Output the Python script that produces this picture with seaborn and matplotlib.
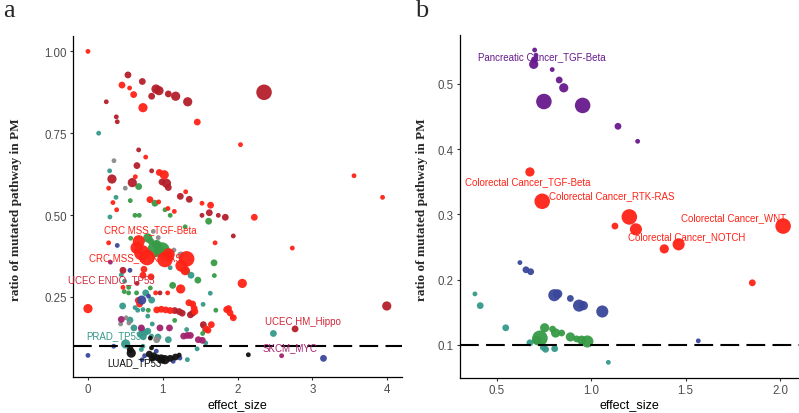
import matplotlib
matplotlib.use("Agg")
import matplotlib.pyplot as plt
import numpy as np
import pandas as pd
import seaborn as sns

# ---------------- panel a data: (effect_size, ratio, size level) per group ----------------
a_red = [(0.00, 1.000, 1), (0.455, 0.897, 2), (0.557, 0.888, 1), (0.611, 0.868, 2), (0.736, 0.828, 3),
         (1.462, 0.784, 2), (2.04, 0.715, 1), (0.772, 0.677, 1), (0.954, 0.630, 2), (1.02, 0.623, 3),
         (0.633, 0.617, 1), (0.277, 0.582, 1), (1.307, 0.571, 1), (3.558, 0.620, 1), (3.94, 0.554, 1),
         (0.334, 0.538, 1), (0.829, 0.547, 2), (0.946, 0.540, 1), (1.525, 0.536, 1), (1.64, 0.530, 2),
         (0.384, 0.516, 1), (1.07, 0.520, 1), (1.155, 0.511, 1), (2.225, 0.493, 2), (1.70, 0.415, 1),
         (0.277, 0.415, 1), (2.733, 0.399, 1), (0.68, 0.420, 4), (0.65, 0.400, 4), (0.72, 0.385, 5),
         (0.79, 0.370, 5), (1.03, 0.364, 5), (1.08, 0.380, 4), (1.32, 0.366, 5), (1.25, 0.345, 4),
         (1.30, 0.330, 3), (0.749, 0.334, 2), (0.736, 0.316, 2), (0.843, 0.311, 2), (2.064, 0.291, 3),
         (1.24, 0.274, 3), (0.468, 0.279, 1), (0.905, 0.262, 1), (1.066, 0.262, 1), (0.673, 0.239, 2),
         (0.69, 0.228, 2), (0.00, 0.214, 3), (1.35, 0.232, 2), (1.40, 0.228, 2), (1.42, 0.215, 2),
         (1.43, 0.205, 2), (1.10, 0.208, 2), (0.92, 0.210, 2), (0.98, 0.212, 2), (1.04, 0.210, 2),
         (1.855, 0.211, 2), (1.90, 0.201, 2), (1.944, 0.186, 2), (1.88, 0.214, 2), (1.93, 0.190, 1),
         (1.65, 0.165, 2), (1.578, 0.152, 2), (1.605, 0.148, 2)]
a_darkred = [(0.535, 0.928, 2), (0.727, 0.908, 2), (0.91, 0.885, 3), (0.95, 0.880, 3), (1.075, 0.870, 2),
             (1.173, 0.863, 3), (0.852, 0.863, 2), (1.334, 0.846, 3), (0.245, 0.846, 1), (2.355, 0.875, 5),
             (0.379, 0.800, 1), (0.392, 0.785, 1), (0.678, 0.699, 1), (0.655, 0.651, 2), (0.852, 0.635, 1),
             (0.99, 0.601, 2), (1.05, 0.597, 3), (1.075, 0.584, 2), (0.321, 0.610, 3), (0.593, 0.599, 3),
             (1.235, 0.557, 2), (1.355, 0.548, 2), (1.623, 0.507, 2), (1.743, 0.499, 1), (1.837, 0.493, 2),
             (1.525, 0.499, 1), (1.944, 0.436, 1), (0.468, 0.331, 2), (0.656, 0.291, 1), (0.963, 0.262, 1),
             (1.40, 0.200, 2), (1.37, 0.195, 2), (1.16, 0.208, 2), (1.22, 0.205, 2), (1.26, 0.200, 2),
             (1.543, 0.165, 2), (2.77, 0.152, 2), (3.996, 0.222, 3)]
a_green = [(0.678, 0.587, 2), (0.566, 0.544, 1), (0.896, 0.536, 2), (1.03, 0.516, 1), (1.614, 0.481, 2),
           (0.629, 0.499, 1), (0.686, 0.499, 1), (1.10, 0.499, 1), (1.30, 0.464, 1), (0.80, 0.430, 3),
           (0.571, 0.429, 1), (0.90, 0.395, 5), (0.99, 0.393, 5), (0.92, 0.410, 3), (1.05, 0.385, 3),
           (0.84, 0.420, 2), (1.686, 0.354, 2), (1.32, 0.329, 2), (1.47, 0.301, 2), (1.69, 0.315, 1),
           (1.133, 0.285, 2), (0.544, 0.279, 1), (0.485, 0.266, 1), (0.544, 0.262, 1), (0.65, 0.262, 1),
           (0.834, 0.277, 1), (0.807, 0.209, 1), (1.71, 0.209, 1), (1.16, 0.178, 1), (1.534, 0.138, 1)]
a_teal = [(0.143, 0.750, 1), (0.29, 0.635, 1), (0.375, 0.554, 1), (0.294, 0.494, 1), (0.446, 0.317, 1),
          (0.49, 0.298, 1), (1.378, 0.316, 2), (0.772, 0.262, 2), (1.636, 0.261, 1), (0.852, 0.240, 2),
          (1.10, 0.339, 1), (0.464, 0.222, 2), (0.63, 0.217, 1), (0.665, 0.209, 1), (0.736, 0.211, 1),
          (0.80, 0.191, 1), (1.54, 0.227, 1), (0.562, 0.179, 2), (0.86, 0.167, 1), (0.615, 0.155, 2),
          (0.72, 0.150, 2), (0.76, 0.140, 2), (0.80, 0.145, 2), (0.74, 0.128, 2), (0.85, 0.130, 1),
          (0.70, 0.135, 2), (0.936, 0.127, 2), (1.075, 0.119, 2), (1.32, 0.150, 1), (1.54, 0.160, 1),
          (1.56, 0.148, 1), (1.575, 0.109, 1), (1.46, 0.091, 1), (0.504, 0.106, 3), (0.736, 0.099, 1),
          (0.714, 0.089, 1), (1.14, 0.061, 1), (1.33, 0.058, 1), (2.48, 0.138, 2)]
a_gray = [(0.348, 0.666, 1), (0.499, 0.582, 1), (0.874, 0.450, 1), (0.94, 0.431, 1), (1.15, 0.393, 1),
          (1.24, 0.378, 2), (0.51, 0.186, 1), (0.548, 0.170, 1), (0.437, 0.167, 1), (0.919, 0.119, 2)]
a_navy = [(0.392, 0.407, 1), (0.562, 0.331, 1), (0.81, 0.252, 1), (0.718, 0.240, 3), (0.344, 0.099, 1),
          (0.00, 0.071, 1), (0.758, 0.070, 1), (0.726, 0.058, 1), (0.914, 0.084, 1), (1.14, 0.053, 1),
          (1.23, 0.063, 1), (3.15, 0.062, 2)]
a_magenta = [(0.30, 0.356, 1), (0.446, 0.181, 2), (0.714, 0.155, 2), (0.963, 0.155, 2), (1.09, 0.155, 2),
             (1.28, 0.130, 2), (1.33, 0.132, 2), (1.37, 0.132, 2), (1.476, 0.119, 2), (1.53, 0.117, 2),
             (2.59, 0.070, 1)]
a_black = [(0.834, 0.124, 1), (0.85, 0.094, 1), (0.566, 0.089, 2), (0.579, 0.078, 3), (0.82, 0.075, 2),
           (0.88, 0.070, 2), (0.93, 0.064, 2), (0.98, 0.060, 3), (1.03, 0.058, 3), (0.86, 0.062, 2),
           (1.10, 0.062, 2), (1.17, 0.066, 2), (1.22, 0.072, 1), (2.145, 0.073, 1)]

a_labels = ["CRC MSS_TGF-Beta", "CRC MSS_RTK-RAS", "UCEC ENDO_TP53", "UCEC HM_Hippo",
            "PRAD_TP53", "SKCM_MYC", "LUAD_TP53"]
a_label_x = [0.84, 0.64, 0.31, 2.88, 0.34, 2.70, 0.625]
a_label_y = [0.458, 0.370, 0.305, 0.176, 0.132, 0.096, 0.050]
a_label_col = ["red", "red", "ucec", "ucec", "teal", "magenta", "black"]

# ---------------- panel b data ----------------
b_purple = [(0.701, 0.552, 1), (0.708, 0.544, 1), (0.700, 0.537, 2), (0.696, 0.530, 3), (0.794, 0.522, 1),
            (0.831, 0.506, 2), (0.855, 0.494, 3), (0.75, 0.473, 5), (0.955, 0.467, 5), (1.142, 0.435, 2),
            (1.246, 0.412, 1)]
b_red = [(0.676, 0.365, 3), (0.741, 0.320, 5), (1.202, 0.296, 5), (1.126, 0.282, 2), (1.237, 0.277, 4),
         (1.387, 0.247, 3), (1.463, 0.254, 4), (2.016, 0.282, 5), (1.853, 0.195, 2)]
b_navy = [(0.623, 0.226, 1), (0.655, 0.215, 2), (0.68, 0.212, 2), (0.805, 0.176, 4), (0.823, 0.178, 3),
          (0.89, 0.171, 2), (0.936, 0.160, 4), (0.959, 0.160, 3), (1.059, 0.151, 4), (1.567, 0.106, 1)]
b_teal = [(0.385, 0.178, 1), (0.413, 0.160, 2), (0.548, 0.126, 2), (0.676, 0.103, 2), (0.747, 0.096, 2),
          (0.759, 0.093, 2), (0.807, 0.094, 2), (1.091, 0.073, 1)]
b_green = [(0.754, 0.126, 3), (0.729, 0.110, 5), (0.712, 0.107, 3), (0.796, 0.124, 2), (0.812, 0.118, 3),
           (0.844, 0.118, 2), (0.89, 0.112, 3), (0.923, 0.109, 2), (0.95, 0.107, 3), (0.98, 0.105, 4)]

b_labels = ["Pancreatic Cancer_TGF-Beta", "Colorectal Cancer_TGF-Beta", "Colorectal Cancer_RTK-RAS",
            "Colorectal Cancer_WNT", "Colorectal Cancer_NOTCH"]
b_label_x = [0.74, 0.665, 1.107, 1.752, 1.507]
b_label_y = [0.543, 0.351, 0.329, 0.295, 0.267]
b_label_col = ["purple", "red", "red", "red", "red"]

a_xticks = [0, 1, 2, 3, 4]
a_yticks = [0.25, 0.50, 0.75, 1.00]
a_ytick_labels = ["0.25", "0.50", "0.75", "1.00"]
b_xticks = [0.5, 1.0, 1.5, 2.0]
b_xtick_labels = ["0.5", "1.0", "1.5", "2.0"]
b_yticks = [0.1, 0.2, 0.3, 0.4, 0.5]
b_ytick_labels = ["0.1", "0.2", "0.3", "0.4", "0.5"]
threshold = 0.1

palette = {"red": "#FF2216", "darkred": "#B41E2A", "green": "#379A46", "teal": "#35998A",
           "gray": "#8A8A8A", "navy": "#3A479A", "magenta": "#A2226E", "black": "#111111",
           "purple": "#671A8C", "ucec": "#D1283A"}
size_map = {1: 12, 2: 24, 3: 44, 4: 76, 5: 125}


def frame(groups):
    rows = []
    for name, pts in groups.items():
        for x, y, s in pts:
            rows.append({"effect_size": x, "ratio": y, "group": name, "size": s})
    return pd.DataFrame(rows)


df_a = frame({"teal": a_teal, "gray": a_gray, "green": a_green, "darkred": a_darkred,
              "red": a_red, "navy": a_navy, "magenta": a_magenta, "black": a_black})
df_b = frame({"purple": b_purple, "red": b_red, "navy": b_navy, "teal": b_teal, "green": b_green})

sns.set_style("ticks")
plt.rcParams["font.family"] = ["Liberation Sans", "DejaVu Sans"]

fig = plt.figure(figsize=(7.99, 4.14), dpi=100)
W, H = 799, 414
ax_a = fig.add_axes([73 / W, 1 - 378 / H, (402 - 73) / W, (378 - 37) / H])
ax_b = fig.add_axes([460 / W, 1 - 379 / H, (799 - 460) / W, (379 - 36) / H])

for ax, df in ((ax_a, df_a), (ax_b, df_b)):
    sns.scatterplot(data=df, x="effect_size", y="ratio", hue="group", palette=palette,
                    size="size", sizes=size_map, legend=False, linewidth=0, alpha=0.95, ax=ax)
    ax.axhline(threshold, color="black", lw=1.5, ls=(0, (9, 3.5)), zorder=5)
    for side in ("top", "right"):
        ax.spines[side].set_visible(False)
    for side in ("left", "bottom"):
        ax.spines[side].set_linewidth(0.9)
        ax.spines[side].set_color("black")
    ax.tick_params(axis="both", length=2.5, width=0.8, color="#333333",
                   labelcolor="#4D4D4D", labelsize=8.3, pad=2)
    ax.set_xlabel("")
    ax.set_ylabel("")

ax_a.set_xlim(-0.2, 4.2)
ax_a.set_ylim(0.005, 1.047)
ax_a.set_xticks(a_xticks)
ax_a.set_xticklabels([str(t) for t in a_xticks])
ax_a.set_yticks(a_yticks)
ax_a.set_yticklabels(a_ytick_labels)

ax_b.set_xlim(0.306, 2.10)
ax_b.set_ylim(0.049, 0.575)
ax_b.set_xticks(b_xticks)
ax_b.set_xticklabels(b_xtick_labels)
ax_b.set_yticks(b_yticks)
ax_b.set_yticklabels(b_ytick_labels)

for t, x, y, c in zip(a_labels, a_label_x, a_label_y, a_label_col):
    ax_a.text(x, y, t, color=palette[c], fontsize=7, ha="center", va="center", zorder=6)
for t, x, y, c in zip(b_labels, b_label_x, b_label_y, b_label_col):
    ax_b.text(x, y, t, color=palette[c], fontsize=7, ha="center", va="center", zorder=6)

# axis titles
for cx in (237.5 / W, 629.5 / W):
    fig.text(cx, 1 - 405.5 / H, "effect_size", fontsize=9, color="black", ha="center", va="center")
for cx, cy in ((16 / W, 1 - 210 / H), (422 / W, 1 - 210 / H)):
    fig.text(cx, cy, "ratio of mutated pathway in PM", rotation=90, fontsize=9.5,
             family="Liberation Serif", weight="bold", ha="center", va="center")

fig.text(9 / W, 1 - 11 / H, "a", fontsize=19, family="Liberation Serif", ha="center", va="center")
fig.text(422 / W, 1 - 11 / H, "b", fontsize=19, family="Liberation Serif", ha="center", va="center")

fig.savefig("out.png", dpi=100)
